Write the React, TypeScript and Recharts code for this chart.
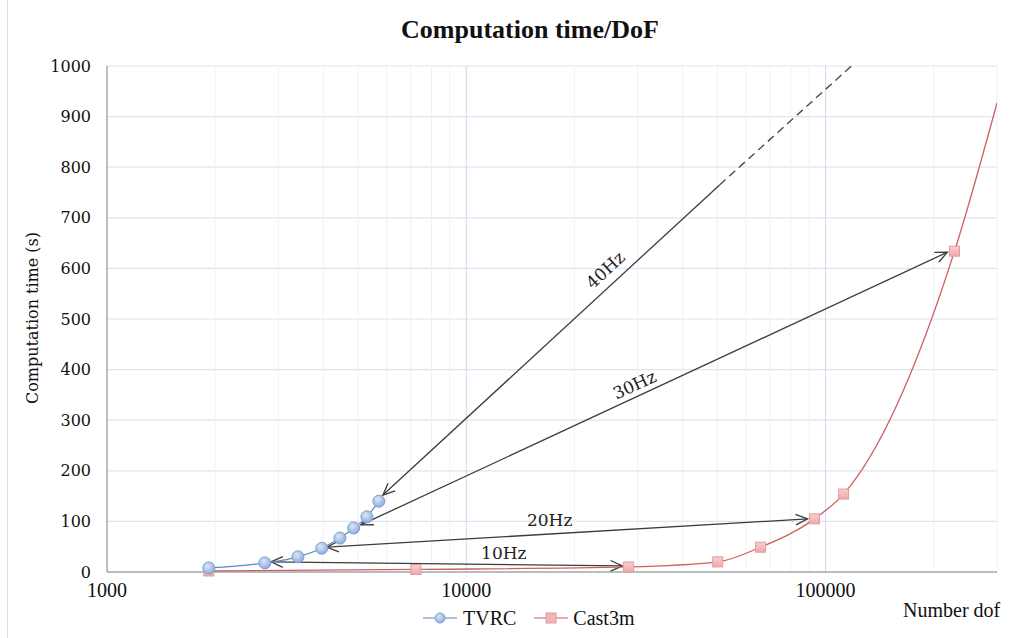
import React from 'react';
import {
  ComposedChart, Line, XAxis, YAxis, CartesianGrid,
  ReferenceLine, ReferenceDot
} from 'recharts';

// Fuentes
const SERIF = '"DejaVu Serif", serif';
const TIMES = '"Liberation Serif", "Times New Roman", serif';

// Datos TVRC
const tvrcX = [1920, 2750, 3400, 3960, 4450, 4860, 5290, 5710];
const tvrcY = [8, 18, 30, 47, 67, 87, 109, 140];

// Datos Cast3m (el último punto queda en el borde, sin marcador)
const castX = [1920, 7240, 28300, 50100, 65900, 93100, 112200, 228500, 300000];
const castY = [2, 5, 10, 20, 49, 105, 154, 634, 927];
const castMarker = [true, true, true, true, true, true, true, true, false];

// Ejes
const xTicks = [1000, 10000, 100000];
const yTicks = [0, 100, 200, 300, 400, 500, 600, 700, 800, 900, 1000];
const minorX = [2000, 3000, 4000, 5000, 6000, 7000, 8000, 9000,
  20000, 30000, 40000, 50000, 60000, 70000, 80000, 90000, 200000, 300000];
const majorX = [10000, 100000];

// Flechas
const arrowLabels = ['40Hz', '30Hz', '20Hz', '10Hz'];
const arrowStartX = [50700, 218300, 89100, 27200];
const arrowStartY = [765, 632, 105, 12];
const arrowEndX = [5860, 5090, 4090, 2860];
const arrowEndY = [152, 93, 49, 20];
const arrowBoth = [false, true, true, true];
const labelX = [24400, 29400, 17060, 12720];
const labelY = [597, 370, 103, 37];
const labelAngle = [-42.8, -24.7, 0, 0];

// Extrapolación punteada
const trendX = [50700, 118000];
const trendY = [765, 1000];

const tvrcData = tvrcX.map((x, i) => ({ x, y: tvrcY[i] }));
const castData = castX.map((x, i) => ({ x, y: castY[i], marker: castMarker[i] }));

const headPoints = (tx: number, ty: number, fx: number, fy: number): string => {
  const a = Math.atan2(ty - fy, tx - fx);
  const len = 13;
  const spread = 0.42;
  const p1 = [tx - len * Math.cos(a - spread), ty - len * Math.sin(a - spread)];
  const p2 = [tx - len * Math.cos(a + spread), ty - len * Math.sin(a + spread)];
  return `${p1[0]},${p1[1]} ${tx},${ty} ${p2[0]},${p2[1]}`;
};

const makeArrow = (both: boolean) => (props: any) => {
  const { x1, y1, x2, y2 } = props;
  return (
    <g>
      <line x1={x1} y1={y1} x2={x2} y2={y2} stroke="#3c3c3c" strokeWidth={1.3} />
      <polyline points={headPoints(x2, y2, x1, y1)} fill="none" stroke="#3c3c3c" strokeWidth={1.3} />
      {both && (
        <polyline points={headPoints(x1, y1, x2, y2)} fill="none" stroke="#3c3c3c" strokeWidth={1.3} />
      )}
    </g>
  );
};

const makeLabel = (text: string, angle: number) => (props: any) => {
  const { cx, cy } = props;
  return (
    <text
      x={cx}
      y={cy}
      transform={`rotate(${angle} ${cx} ${cy})`}
      textAnchor="middle"
      dominantBaseline="central"
      fontFamily={SERIF}
      fontSize={17}
      fill="#222"
    >
      {text}
    </text>
  );
};

const TvrcDot = (props: any) => {
  const { cx, cy, index } = props;
  return (
    <circle key={`t-${index}`} cx={cx} cy={cy} r={6} fill="url(#tvrcGrad)" stroke="#7f9fd0" strokeWidth={1} />
  );
};

const CastDot = (props: any) => {
  const { cx, cy, index, payload } = props;
  if (!payload.marker) return <g key={`c-${index}`} />;
  return (
    <rect key={`c-${index}`} x={cx - 5} y={cy - 5} width={10} height={10}
      fill="url(#castGrad)" stroke="#e39b9b" strokeWidth={1} />
  );
};

const XTick = (props: any) => {
  const { x, payload } = props;
  return (
    <text x={x} y={597} textAnchor="middle" fontFamily={TIMES} fontSize={20} fill="#111">
      {payload.value}
    </text>
  );
};

const YTick = (props: any) => {
  const { y, payload } = props;
  return (
    <text x={91} y={y} textAnchor="end" dominantBaseline="central" fontFamily={SERIF} fontSize={16} fill="#111">
      {payload.value}
    </text>
  );
};

const Leyenda: React.FC = () => (
  <div style={{
    position: 'absolute', top: 607, left: 423, display: 'flex', alignItems: 'center',
    fontFamily: TIMES, fontSize: 20, color: '#111', lineHeight: '22px'
  }}>
    <svg width={34} height={14}>
      <defs>
        <radialGradient id="tvrcGradL" cx="40%" cy="35%" r="70%">
          <stop offset="0%" stopColor="#dbe6f6" />
          <stop offset="100%" stopColor="#87a9dc" />
        </radialGradient>
      </defs>
      <line x1={0} y1={7} x2={34} y2={7} stroke="#5b87c7" strokeWidth={1.2} />
      <circle cx={17} cy={7} r={5} fill="url(#tvrcGradL)" stroke="#7f9fd0" />
    </svg>
    <span style={{ marginLeft: 6 }}>TVRC</span>
    <svg width={34} height={14} style={{ marginLeft: 18 }}>
      <line x1={0} y1={7} x2={34} y2={7} stroke="#cf5f5f" strokeWidth={1.2} />
      <rect x={12} y={2} width={10} height={10} fill="#f2b4b4" stroke="#e39b9b" />
    </svg>
    <span style={{ marginLeft: 5 }}>Cast3m</span>
  </div>
);

const App: React.FC = () => {
  return (
    <div style={{ position: 'absolute', left: 0, top: 0, width: 1011, height: 638, background: '#fff' }}>
      <div style={{ position: 'absolute', left: 7, top: 0, width: 1, height: 638, background: '#d9e1ea' }} />
      <div style={{
        position: 'absolute', left: 0, width: 1060, top: 15, textAlign: 'center',
        fontFamily: TIMES, fontWeight: 'bold', fontSize: 26, color: '#111'
      }}>
        Computation time/DoF
      </div>
      <div style={{
        position: 'absolute', left: 32, top: 318, transform: 'translate(-50%, -50%) rotate(-90deg)',
        whiteSpace: 'nowrap', fontFamily: SERIF, fontSize: 16, color: '#111'
      }}>
        Computation time (s)
      </div>
      <div style={{
        position: 'absolute', left: 903, top: 599, fontFamily: TIMES, fontSize: 20, color: '#111', whiteSpace: 'nowrap'
      }}>
        Number dof
      </div>
      <ComposedChart width={1011} height={638} margin={{ top: 66, right: 14, bottom: 36, left: 0 }}>
        <defs>
          <radialGradient id="tvrcGrad" cx="40%" cy="35%" r="70%">
            <stop offset="0%" stopColor="#dbe6f6" />
            <stop offset="100%" stopColor="#87a9dc" />
          </radialGradient>
          <linearGradient id="castGrad" x1="0" y1="0" x2="0" y2="1">
            <stop offset="0%" stopColor="#f8d0d0" />
            <stop offset="100%" stopColor="#efa9a9" />
          </linearGradient>
        </defs>
        <CartesianGrid vertical={false} stroke="#dce6f2" strokeWidth={1.2} />
        {minorX.map((v) => (
          <ReferenceLine key={`m-${v}`} x={v} stroke="#edf2f8" strokeWidth={1} ifOverflow="visible" />
        ))}
        {majorX.map((v) => (
          <ReferenceLine key={`M-${v}`} x={v} stroke="#cdd9ea" strokeWidth={1} />
        ))}
        <XAxis
          dataKey="x"
          type="number"
          scale="log"
          domain={[1000, 300000]}
          ticks={xTicks}
          allowDataOverflow
          height={30}
          tickLine={false}
          axisLine={{ stroke: '#868686' }}
          tick={<XTick />}
        />
        <YAxis
          type="number"
          domain={[0, 1000]}
          ticks={yTicks}
          width={107}
          tickLine={false}
          axisLine={{ stroke: '#7f7f7f' }}
          tick={<YTick />}
        />
        <ReferenceLine
          segment={[{ x: trendX[0], y: trendY[0] }, { x: trendX[1], y: trendY[1] }]}
          stroke="#4a4a4a"
          strokeWidth={1.4}
          strokeDasharray="8 5"
          ifOverflow="visible"
        />
        {arrowLabels.map((lab, i) => (
          <ReferenceLine
            key={`a-${lab}`}
            segment={[{ x: arrowStartX[i], y: arrowStartY[i] }, { x: arrowEndX[i], y: arrowEndY[i] }]}
            ifOverflow="visible"
            shape={makeArrow(arrowBoth[i])}
          />
        ))}
        {arrowLabels.map((lab, i) => (
          <ReferenceDot
            key={`l-${lab}`}
            x={labelX[i]}
            y={labelY[i]}
            r={0}
            ifOverflow="visible"
            shape={makeLabel(lab, labelAngle[i])}
          />
        ))}
        <Line
          data={castData}
          dataKey="y"
          name="Cast3m"
          type="monotone"
          stroke="#cf5f5f"
          strokeWidth={1.3}
          dot={CastDot}
          activeDot={false}
          isAnimationActive={false}
        />
        <Line
          data={tvrcData}
          dataKey="y"
          name="TVRC"
          type="monotone"
          stroke="#5b87c7"
          strokeWidth={1.2}
          dot={TvrcDot}
          activeDot={false}
          isAnimationActive={false}
        />
      </ComposedChart>
      <Leyenda />
    </div>
  );
};

export default App;
